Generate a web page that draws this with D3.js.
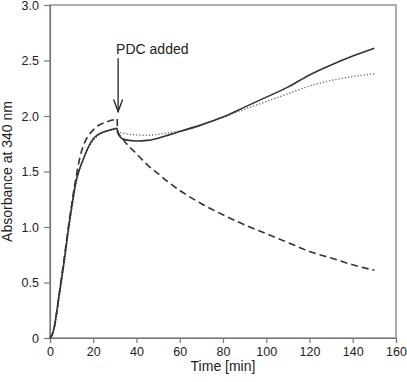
<!DOCTYPE html>
<html>
<head>
<meta charset="utf-8">
<script src="https://cdn.jsdelivr.net/npm/d3@7"></script>
<style>
  body { margin: 0; background: #fff; }
  svg { display: block; font-family: "Liberation Sans", Arial, sans-serif; }
</style>
</head>
<body>
<div id="chart"></div>
<script>
// time points (min), same for all three traces
const TIME = [0, 1, 2, 3, 4, 5, 6, 7, 8, 9, 10, 11, 12, 13, 14, 15, 16, 18, 20, 22, 24, 26, 28, 30, 31,
    31.3, 33, 35, 40, 45, 50, 55, 60, 70, 80, 90, 100, 110, 120, 130, 140, 150];

// absorbance traces
const SOLID = [0, 0.03, 0.1, 0.22, 0.36, 0.49, 0.62, 0.76, 0.91, 1.05, 1.18, 1.3, 1.41, 1.48, 1.54, 1.59, 1.64, 1.73, 1.795, 1.83, 1.85, 1.865, 1.875, 1.885, 1.89,
    1.85, 1.8, 1.785, 1.775, 1.78, 1.8, 1.83, 1.86, 1.92, 1.99, 2.08, 2.17, 2.26, 2.37, 2.46, 2.54, 2.61];
const DASHED = [0, 0.03, 0.1, 0.22, 0.36, 0.5, 0.64, 0.78, 0.93, 1.07, 1.2, 1.33, 1.44, 1.55, 1.64, 1.71, 1.76, 1.83, 1.875, 1.91, 1.93, 1.945, 1.96, 1.97, 1.98,
    1.86, 1.81, 1.76, 1.66, 1.56, 1.48, 1.4, 1.33, 1.21, 1.11, 1.02, 0.94, 0.86, 0.78, 0.72, 0.66, 0.61];
const DOTTED = [0, 0.02, 0.08, 0.19, 0.33, 0.46, 0.59, 0.73, 0.88, 1.02, 1.15, 1.27, 1.38, 1.47, 1.54, 1.59, 1.64, 1.72, 1.78, 1.82, 1.845, 1.86, 1.87, 1.88, 1.885,
    1.86, 1.85, 1.84, 1.83, 1.825, 1.835, 1.85, 1.865, 1.92, 1.99, 2.06, 2.13, 2.2, 2.27, 2.32, 2.355, 2.38];

// axis ticks
const X_TICKS = [0, 20, 40, 60, 80, 100, 120, 140, 160];
const Y_TICKS = [0, 0.5, 1.0, 1.5, 2.0, 2.5, 3.0];

// annotation
const NOTE_TEXT = "PDC added";
const NOTE_T = 31.5;
const NOTE_FROM = 2.52;
const NOTE_TO = 2.04;

//dimensions
const W = 407, H = 382;
const MARGIN = { top: 5, right: 11, bottom: 44, left: 50 };
const WIDTH = W - MARGIN.left - MARGIN.right;
const HEIGHT = H - MARGIN.top - MARGIN.bottom;

const svg = d3.select("#chart").append("svg")
    .attr("width", W)
    .attr("height", H);

const g = svg.append("g")
    .attr("transform", `translate(${MARGIN.left},${MARGIN.top})`);

const x = d3.scaleLinear().domain([0, 160]).range([0, WIDTH]);
const y = d3.scaleLinear().domain([0, 3]).range([HEIGHT, 0]);

// frame
g.append("rect")
    .attr("width", WIDTH)
    .attr("height", HEIGHT)
    .attr("fill", "none")
    .attr("stroke", "#777")
    .attr("stroke-width", 1.2);

// axes
const xAxis = g.append("g")
    .attr("transform", `translate(0,${HEIGHT})`)
    .call(d3.axisBottom(x).tickValues(X_TICKS).tickSize(5).tickPadding(4).tickFormat(d3.format("d")));
const yAxis = g.append("g")
    .call(d3.axisLeft(y).tickValues(Y_TICKS).tickSize(6).tickPadding(5)
        .tickFormat(d => d === 0 ? "0" : d3.format(".1f")(d)));

[xAxis, yAxis].forEach(a => {
    a.select(".domain").attr("stroke", "#777").attr("stroke-width", 1.2);
    a.selectAll(".tick line").attr("stroke", "#777").attr("stroke-width", 1.2);
    a.selectAll(".tick text")
        .attr("fill", "#222")
        .attr("font-size", 12.5)
        .attr("font-family", "'Liberation Sans', Arial, sans-serif");
});

// axis titles
svg.append("text")
    .attr("x", MARGIN.left + WIDTH / 2)
    .attr("y", 371)
    .attr("text-anchor", "middle")
    .attr("font-size", 14)
    .attr("fill", "#222")
    .text("Time [min]");

svg.append("text")
    .attr("transform", `translate(12,${MARGIN.top + HEIGHT / 2}) rotate(-90)`)
    .attr("text-anchor", "middle")
    .attr("font-size", 14)
    .attr("fill", "#222")
    .text("Absorbance at 340 nm");

// traces
const line = d3.line()
    .x(d => x(d[0]))
    .y(d => y(d[1]))
    .curve(d3.curveMonotoneX);

const series = [
    { values: DOTTED, stroke: "#666", width: 1.4, dash: "1.2,2" },
    { values: SOLID, stroke: "#333", width: 1.6, dash: null },
    { values: DASHED, stroke: "#333", width: 1.6, dash: "7,4" }
];

series.forEach(s => {
    g.append("path")
        .datum(TIME.map((t, i) => [t, s.values[i]]))
        .attr("fill", "none")
        .attr("stroke", s.stroke)
        .attr("stroke-width", s.width)
        .attr("stroke-dasharray", s.dash)
        .attr("d", line);
});

// annotation arrow
const ax = x(NOTE_T);
const ay0 = y(NOTE_FROM);
const ay1 = y(NOTE_TO);
g.append("line")
    .attr("x1", ax).attr("x2", ax)
    .attr("y1", ay0).attr("y2", ay1)
    .attr("stroke", "#222")
    .attr("stroke-width", 1.3);
g.append("path")
    .attr("d", `M${ax - 4.5},${ay1 - 12}L${ax},${ay1}L${ax + 4.5},${ay1 - 12}`)
    .attr("fill", "none")
    .attr("stroke", "#222")
    .attr("stroke-width", 1.3);
g.append("text")
    .attr("x", ax - 2)
    .attr("y", ay0 - 4)
    .attr("font-size", 14)
    .attr("fill", "#222")
    .text(NOTE_TEXT);
</script>
</body>
</html>
